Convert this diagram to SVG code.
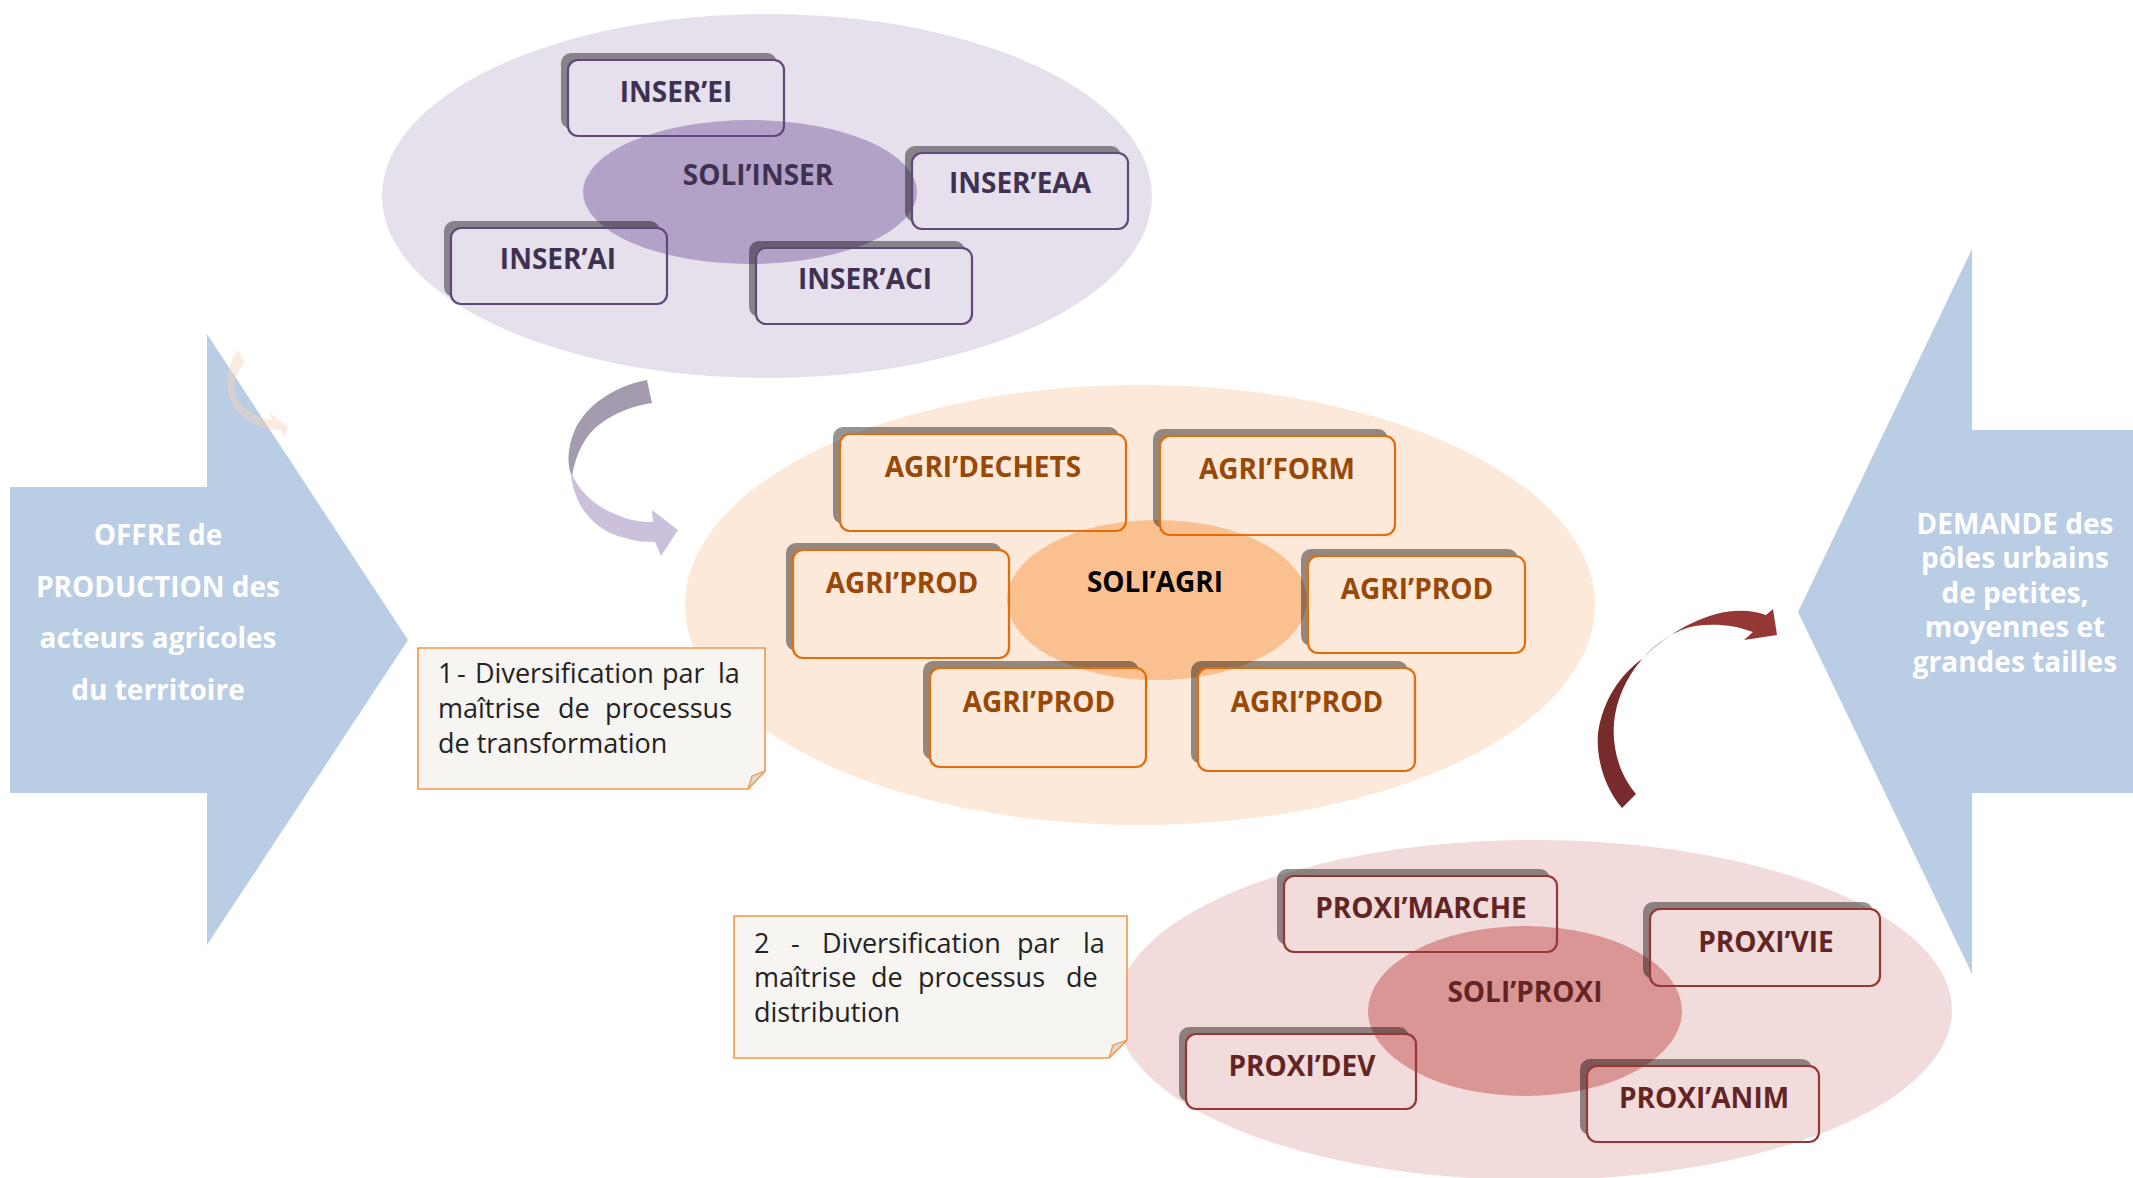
<svg xmlns="http://www.w3.org/2000/svg" width="2133" height="1178" viewBox="0 0 2133 1178">
<defs>
<style>
text{font-family:"Open Sans","Liberation Sans",sans-serif}
.lbl{font-size:28px;font-weight:700;text-anchor:middle}
.big{font-size:28px;font-weight:700;fill:#ffffff;text-anchor:middle}
.note{font-size:27px;fill:#222222}
.shadow{fill:#000000;fill-opacity:0.42;fill-rule:evenodd}
.box{fill:none;stroke-width:2.2}
.pbox{stroke:#5f497a}.ptxt{fill:#3f3151}
.obox{stroke:#e46c0a}.otxt{fill:#984807}
.rbox{stroke:#953735}.rtxt{fill:#632523}
.blue{fill:#b9cde5}
.notebg{fill:#f7f5f1;stroke:#f79646;stroke-width:1.6}
.fold{fill:#dcd9d3;stroke:#f79646;stroke-width:1.2}
</style>
</defs>
<rect width="2133" height="1178" fill="#ffffff"/>

<g id="offre">
<polygon class="blue" points="10,487 207,487 207,334 408,640 207,945 207,793 10,793"/>
<text class="big" x="158" y="545">OFFRE de</text>
<text class="big" x="158" y="597">PRODUCTION des</text>
<text class="big" x="158" y="648">acteurs agricoles</text>
<text class="big" x="158" y="700">du territoire</text>
</g>

<g id="demande">
<polygon class="blue" points="2133,430 1972,430 1972,249 1798,612 1972,974 1972,793 2133,793"/>
<text class="big" x="2015" y="534">DEMANDE des</text>
<text class="big" x="2015" y="568">pôles urbains</text>
<text class="big" x="2015" y="603">de petites,</text>
<text class="big" x="2015" y="637">moyennes et</text>
<text class="big" x="2015" y="672">grandes tailles</text>
</g>

<g id="insertion">
<ellipse id="insertion-bg" cx="767" cy="196" rx="385" ry="182" fill="#e5e0ec"/>
<g id="soli-inser">
<ellipse cx="750" cy="192" rx="167" ry="72" fill="#b3a2c7"/>
<text class="lbl ptxt" x="758" y="185">SOLI’INSER</text>
</g>
<g id="inser-ei">
<path class="shadow" d="M571,53 H767 A10,10 0 0 1 777,63 V119 A10,10 0 0 1 767,129 H571 A10,10 0 0 1 561,119 V63 A10,10 0 0 1 571,53 Z M578,60 H777 V119 A10,10 0 0 1 767,129 H568 V70 A10,10 0 0 1 578,60 Z"/>
<rect class="box pbox" x="568" y="60" width="216" height="76" rx="10"/>
<text class="lbl ptxt" x="676" y="102">INSER’EI</text>
</g>
<g id="inser-eaa">
<path class="shadow" d="M915,146 H1111 A10,10 0 0 1 1121,156 V212 A10,10 0 0 1 1111,222 H915 A10,10 0 0 1 905,212 V156 A10,10 0 0 1 915,146 Z M922,153 H1121 V212 A10,10 0 0 1 1111,222 H912 V163 A10,10 0 0 1 922,153 Z"/>
<rect class="box pbox" x="912" y="153" width="216" height="76" rx="10"/>
<text class="lbl ptxt" x="1020" y="193">INSER’EAA</text>
</g>
<g id="inser-ai">
<path class="shadow" d="M454,221 H650 A10,10 0 0 1 660,231 V287 A10,10 0 0 1 650,297 H454 A10,10 0 0 1 444,287 V231 A10,10 0 0 1 454,221 Z M461,228 H660 V287 A10,10 0 0 1 650,297 H451 V238 A10,10 0 0 1 461,228 Z"/>
<rect class="box pbox" x="451" y="228" width="216" height="76" rx="10"/>
<text class="lbl ptxt" x="558" y="269">INSER’AI</text>
</g>
<g id="inser-aci">
<path class="shadow" d="M759,241 H955 A10,10 0 0 1 965,251 V307 A10,10 0 0 1 955,317 H759 A10,10 0 0 1 749,307 V251 A10,10 0 0 1 759,241 Z M766,248 H965 V307 A10,10 0 0 1 955,317 H756 V258 A10,10 0 0 1 766,248 Z"/>
<rect class="box pbox" x="756" y="248" width="216" height="76" rx="10"/>
<text class="lbl ptxt" x="865" y="289">INSER’ACI</text>
</g>
</g>

<g id="agriculture">
<ellipse id="agriculture-bg" cx="1140" cy="605" rx="455" ry="220" fill="#fde9d9"/>
<g id="soli-agri">
<ellipse cx="1157" cy="600" rx="150" ry="80" fill="#fac090"/>
<text class="lbl" x="1155" y="592" fill="#000000">SOLI’AGRI</text>
</g>
<g id="agri-dechets">
<path class="shadow" d="M843,427 H1109 A10,10 0 0 1 1119,437 V514 A10,10 0 0 1 1109,524 H843 A10,10 0 0 1 833,514 V437 A10,10 0 0 1 843,427 Z M850,434 H1119 V514 A10,10 0 0 1 1109,524 H840 V444 A10,10 0 0 1 850,434 Z"/>
<rect class="box obox" x="840" y="434" width="286" height="97" rx="10"/>
<text class="lbl otxt" x="983" y="477">AGRI’DECHETS</text>
</g>
<g id="agri-form">
<path class="shadow" d="M1163,429 H1378 A10,10 0 0 1 1388,439 V518 A10,10 0 0 1 1378,528 H1163 A10,10 0 0 1 1153,518 V439 A10,10 0 0 1 1163,429 Z M1170,436 H1388 V518 A10,10 0 0 1 1378,528 H1160 V446 A10,10 0 0 1 1170,436 Z"/>
<rect class="box obox" x="1160" y="436" width="235" height="99" rx="10"/>
<text class="lbl otxt" x="1277" y="479">AGRI’FORM</text>
</g>
<g id="agri-prod-1">
<path class="shadow" d="M796,543 H992 A10,10 0 0 1 1002,553 V641 A10,10 0 0 1 992,651 H796 A10,10 0 0 1 786,641 V553 A10,10 0 0 1 796,543 Z M803,550 H1002 V641 A10,10 0 0 1 992,651 H793 V560 A10,10 0 0 1 803,550 Z"/>
<rect class="box obox" x="793" y="550" width="216" height="108" rx="10"/>
<text class="lbl otxt" x="902" y="593">AGRI’PROD</text>
</g>
<g id="agri-prod-2">
<path class="shadow" d="M1311,549 H1508 A10,10 0 0 1 1518,559 V636 A10,10 0 0 1 1508,646 H1311 A10,10 0 0 1 1301,636 V559 A10,10 0 0 1 1311,549 Z M1318,556 H1518 V636 A10,10 0 0 1 1508,646 H1308 V566 A10,10 0 0 1 1318,556 Z"/>
<rect class="box obox" x="1308" y="556" width="217" height="97" rx="10"/>
<text class="lbl otxt" x="1417" y="599">AGRI’PROD</text>
</g>
<g id="agri-prod-3">
<path class="shadow" d="M933,661 H1129 A10,10 0 0 1 1139,671 V750 A10,10 0 0 1 1129,760 H933 A10,10 0 0 1 923,750 V671 A10,10 0 0 1 933,661 Z M940,668 H1139 V750 A10,10 0 0 1 1129,760 H930 V678 A10,10 0 0 1 940,668 Z"/>
<rect class="box obox" x="930" y="668" width="216" height="99" rx="10"/>
<text class="lbl otxt" x="1039" y="712">AGRI’PROD</text>
</g>
<g id="agri-prod-4">
<path class="shadow" d="M1201,661 H1398 A10,10 0 0 1 1408,671 V754 A10,10 0 0 1 1398,764 H1201 A10,10 0 0 1 1191,754 V671 A10,10 0 0 1 1201,661 Z M1208,668 H1408 V754 A10,10 0 0 1 1398,764 H1198 V678 A10,10 0 0 1 1208,668 Z"/>
<rect class="box obox" x="1198" y="668" width="217" height="103" rx="10"/>
<text class="lbl otxt" x="1307" y="712">AGRI’PROD</text>
</g>
</g>

<g id="proximite">
<ellipse id="proximite-bg" cx="1534" cy="1010" rx="418" ry="170" fill="#f2dcdb"/>
<g id="soli-proxi">
<ellipse cx="1525" cy="1011" rx="157" ry="85" fill="#d99694"/>
<text class="lbl rtxt" x="1525" y="1002">SOLI’PROXI</text>
</g>
<g id="proxi-marche">
<path class="shadow" d="M1287,869 H1540 A10,10 0 0 1 1550,879 V935 A10,10 0 0 1 1540,945 H1287 A10,10 0 0 1 1277,935 V879 A10,10 0 0 1 1287,869 Z M1294,876 H1550 V935 A10,10 0 0 1 1540,945 H1284 V886 A10,10 0 0 1 1294,876 Z"/>
<rect class="box rbox" x="1284" y="876" width="273" height="76" rx="10"/>
<text class="lbl rtxt" x="1421" y="918">PROXI’MARCHE</text>
</g>
<g id="proxi-vie">
<path class="shadow" d="M1653,902 H1863 A10,10 0 0 1 1873,912 V969 A10,10 0 0 1 1863,979 H1653 A10,10 0 0 1 1643,969 V912 A10,10 0 0 1 1653,902 Z M1660,909 H1873 V969 A10,10 0 0 1 1863,979 H1650 V919 A10,10 0 0 1 1660,909 Z"/>
<rect class="box rbox" x="1650" y="909" width="230" height="77" rx="10"/>
<text class="lbl rtxt" x="1766" y="952">PROXI’VIE</text>
</g>
<g id="proxi-dev">
<path class="shadow" d="M1189,1027 H1399 A10,10 0 0 1 1409,1037 V1092 A10,10 0 0 1 1399,1102 H1189 A10,10 0 0 1 1179,1092 V1037 A10,10 0 0 1 1189,1027 Z M1196,1034 H1409 V1092 A10,10 0 0 1 1399,1102 H1186 V1044 A10,10 0 0 1 1196,1034 Z"/>
<rect class="box rbox" x="1186" y="1034" width="230" height="75" rx="10"/>
<text class="lbl rtxt" x="1302" y="1076">PROXI’DEV</text>
</g>
<g id="proxi-anim">
<path class="shadow" d="M1590,1059 H1802 A10,10 0 0 1 1812,1069 V1125 A10,10 0 0 1 1802,1135 H1590 A10,10 0 0 1 1580,1125 V1069 A10,10 0 0 1 1590,1059 Z M1597,1066 H1812 V1125 A10,10 0 0 1 1802,1135 H1587 V1076 A10,10 0 0 1 1597,1066 Z"/>
<rect class="box rbox" x="1587" y="1066" width="232" height="76" rx="10"/>
<text class="lbl rtxt" x="1704" y="1108">PROXI’ANIM</text>
</g>
</g>

<g id="note-1">
<path class="notebg" d="M418,648 H765 V771 L748,789 H418 Z"/>
<path class="fold" d="M765,771 L748,789 L752,776 Z"/>
<text class="note" y="683"><tspan x="438">1</tspan><tspan x="457">-</tspan><tspan x="475">Diversification</tspan><tspan x="662">par</tspan><tspan x="718">la</tspan></text>
<text class="note" y="718"><tspan x="438">maîtrise</tspan><tspan x="558">de</tspan><tspan x="605">processus</tspan></text>
<text class="note" x="438" y="753">de transformation</text>
</g>

<g id="note-2">
<path class="notebg" d="M734,916 H1127 V1040 L1109,1058 H734 Z"/>
<path class="fold" d="M1127,1040 L1109,1058 L1113,1045 Z"/>
<text class="note" y="953"><tspan x="754">2</tspan><tspan x="791">-</tspan><tspan x="822">Diversification</tspan><tspan x="1017">par</tspan><tspan x="1083">la</tspan></text>
<text class="note" y="987"><tspan x="754">maîtrise</tspan><tspan x="871">de</tspan><tspan x="918">processus</tspan><tspan x="1066">de</tspan></text>
<text class="note" x="754" y="1022">distribution</text>
</g>

<g id="connectors">
<path id="ghost-arrow" fill="#f9d3bb" fill-opacity="0.45" d="M238,350 L245,362 C232,376 230,396 245,408 C253,415 262,418 272,420 L270,413 L288,427 L284,437 L281,430 C267,430 250,425 240,414 C225,398 222,372 238,350 Z"/>
<g id="arrow-inser-agri">
<path fill="#a59bb0" d="M647,380 C615,386 585,405 574,432 C567,450 567,465 572,477 C575,455 585,435 600,424 C615,413 632,406 652,403 Z"/>
<path fill="#ccc1dd" d="M571,472 C572,500 590,530 625,538 C635,541 645,542 655,542 L661,556 L678,530 L652,510 L653,522 C640,522 630,520 620,516 C598,508 580,494 571,472 Z"/>
</g>
<g id="arrow-proxi-demande">
<path fill="#772b2b" d="M1642,659 C1620,675 1603,700 1598,733 C1596,760 1605,788 1622,808 L1636,794 C1620,775 1612,750 1614,723 C1616,700 1626,678 1642,659 Z"/>
<path fill="#953735" d="M1642,659 C1660,640 1690,620 1720,613 C1740,609 1755,611 1766,615 L1773,609 L1777,635 L1744,640 L1753,632 C1735,625 1715,623 1695,626 C1675,630 1657,642 1642,659 Z"/>
</g>
</g>
</svg>
